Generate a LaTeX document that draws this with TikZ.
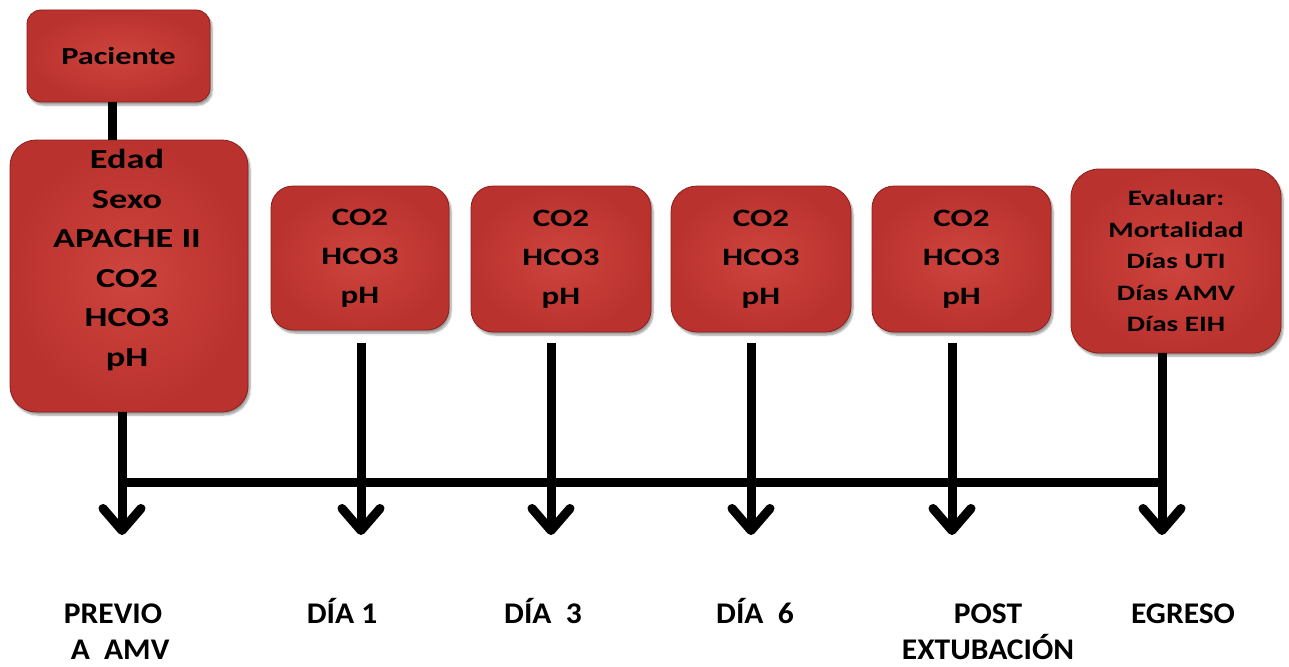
\documentclass[tikz,border=0pt]{standalone}
\usepackage{fontspec}
\setmainfont{Carlito}
\newfontfamily\wide[FakeStretch=1.32]{Carlito}
\newfontfamily\lblfont[FakeStretch=1.05]{Carlito}
\usetikzlibrary{arrows.meta,shadows.blur}
\definecolor{boxin}{RGB}{206,68,62}
\definecolor{boxout}{RGB}{186,50,46}
\definecolor{boxedge}{RGB}{140,30,26}
\tikzset{
  box/.style={rounded corners=#1, draw=boxedge, line width=0.8pt,
    inner color=boxin, outer color=boxout,
    blur shadow={shadow xshift=2pt, shadow yshift=-3pt, shadow blur steps=6, shadow opacity=40},
    align=center, inner sep=0pt},
  box/.default=22pt,
  conn/.style={line width=9pt, black},
  arr/.style={line width=9pt, black, -{Straight Barb[length=22pt, width=38pt, round, line width=9pt]}},
  lbl/.style={font=\lblfont\bfseries\fontsize{30}{36}\selectfont, align=center, inner sep=0pt}
}
\begin{document}
\begin{tikzpicture}[x=1pt,y=-1pt]
\useasboundingbox (0,0) rectangle (1289,666);
% boxes
\node[box=14pt, minimum width=183pt, minimum height=92pt, font=\wide\bfseries\fontsize{24.5}{28}\selectfont] (pac) at (118.5,56) {Paciente};
\node[box=26pt, minimum width=238pt, minimum height=272pt] (big) at (129,276) {};
\node[font=\wide\bfseries\fontsize{27.5}{39.6}\selectfont, align=center, inner sep=0pt] (bigtxt) at (127,260) {Edad\\Sexo\\APACHE II\\CO2\\HCO3\\pH};
\node[box=22pt, minimum width=178pt, minimum height=144pt, font=\wide\bfseries\fontsize{25}{39}\selectfont] (d1) at (360,258) {CO2\\HCO3\\pH};
\node[box=22pt, minimum width=180pt, minimum height=146pt, font=\wide\bfseries\fontsize{25}{39}\selectfont] (d3) at (561,259) {CO2\\HCO3\\pH};
\node[box=26pt, minimum width=180pt, minimum height=146pt, font=\wide\bfseries\fontsize{25}{39}\selectfont] (d6) at (761,259) {CO2\\HCO3\\pH};
\node[box=22pt, minimum width=179pt, minimum height=146pt, font=\wide\bfseries\fontsize{25}{39}\selectfont] (post) at (961.5,259) {CO2\\HCO3\\pH};
\node[box=28pt, minimum width=210pt, minimum height=184pt, font=\wide\bfseries\fontsize{22}{31.5}\selectfont] (egr) at (1176,261) {Evaluar:\\Mortalidad\\Días UTI\\Días AMV\\Días EIH};
% arrow ends
\coordinate (e0) at (122,535);
\coordinate (e1) at (361,535);
\coordinate (e3) at (551,535);
\coordinate (e6) at (751,535);
\coordinate (ep) at (952,535);
\coordinate (ee) at (1162,535);
\coordinate (h0) at (122,482);
\coordinate (he) at (1162,482);
% connectors
\draw[conn] (pac.south -| 112,0) -- (big.north -| 112,0);
\draw[conn] (h0) -- (he);
\draw[arr] (big.south -| e0) -- (e0);
\draw[arr] ([yshift=-13pt]d1.south -| e1) -- (e1);
\draw[arr] ([yshift=-11pt]d3.south -| e3) -- (e3);
\draw[arr] ([yshift=-11pt]d6.south -| e6) -- (e6);
\draw[arr] ([yshift=-11pt]post.south -| ep) -- (ep);
\draw[arr] (egr.south -| ee) -- (ee);
% labels
\node[lbl, anchor=base] (l0) at (113,659) {PREVIO\\\ \ A\ \ AMV};
\node[lbl, anchor=base] (l1) at (342,623) {DÍA 1};
\node[lbl, anchor=base] (l3) at (543,623) {DÍA\ \ 3};
\node[lbl, anchor=base] (l6) at (755,623) {DÍA\ \ 6};
\node[lbl, anchor=base] (lp) at (988,659) {POST\\EXTUBACIÓN};
\node[lbl, anchor=base] (le) at (1183,623) {EGRESO};
\end{tikzpicture}
\end{document}
